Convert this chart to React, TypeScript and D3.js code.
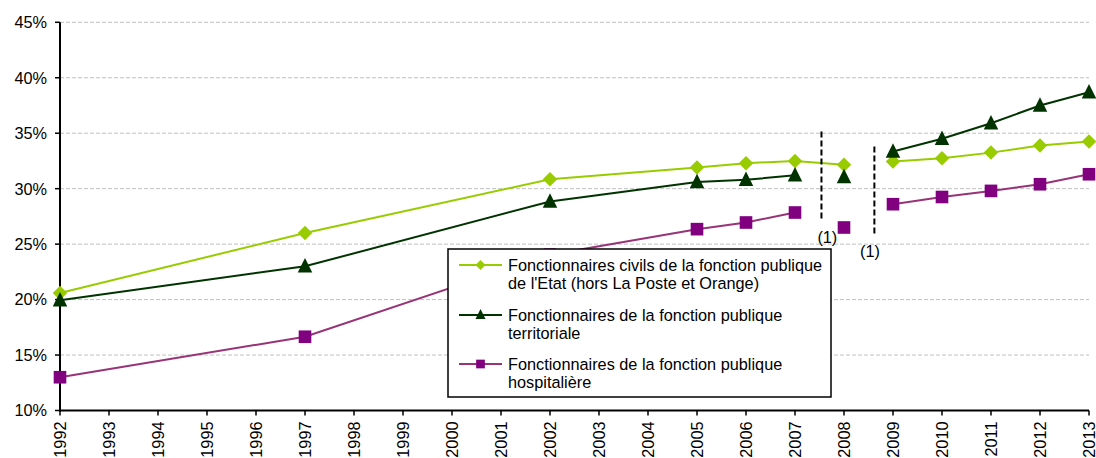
import React from "react";
import * as d3 from "d3";

const WIDTH = 1096;
const HEIGHT = 458;

const years = [1992, 1997, 2002, 2005, 2006, 2007, 2008, 2009, 2010, 2011, 2012, 2013];
const axisYears = d3.range(1992, 2014);
const yTicks = [10, 15, 20, 25, 30, 35, 40, 45];

const etat = [20.6, 26.0, 30.85, 31.9, 32.3, 32.5, 32.15, 32.45, 32.75, 33.25, 33.9, 34.25];
const etatSegments = [0, 0, 0, 0, 0, 0, 0, 1, 1, 1, 1, 1];
const territoriale = [19.95, 23.0, 28.85, 30.6, 30.8, 31.2, 31.05, 33.35, 34.5, 35.9, 37.5, 38.7];
const territorialeSegments = [0, 0, 0, 0, 0, 0, 1, 2, 2, 2, 2, 2];
const hospitaliere = [13.0, 16.65, 24.05, 26.35, 26.95, 27.85, 26.5, 28.6, 29.25, 29.8, 30.4, 31.3];
const hospitaliereSegments = [0, 0, 0, 0, 0, 0, 1, 2, 2, 2, 2, 2];

const legendLabels = [
  ["Fonctionnaires civils de la fonction publique", "de l'Etat (hors La Poste et Orange)"],
  ["Fonctionnaires de la fonction publique", "territoriale"],
  ["Fonctionnaires de la fonction publique", "hospitalière"],
];

// annotation "(1)": dashed line [year, from%, to%] and label [year, %]
const breakLines = [
  { year: 2007.54, from: 35.15, to: 27.2, labelYear: 2007.66, labelValue: 25.65 },
  { year: 2008.62, from: 33.8, to: 25.85, labelYear: 2008.53, labelValue: 24.4 },
];

const FONT = "'Liberation Sans', Arial, sans-serif";

type Shape = "diamond" | "triangle" | "square";

const series = [
  { values: etat, segments: etatSegments, line: "#99CC00", fill: "#99CC00", shape: "diamond" as Shape },
  { values: territoriale, segments: territorialeSegments, line: "#003300", fill: "#003300", shape: "triangle" as Shape },
  { values: hospitaliere, segments: hospitaliereSegments, line: "#993377", fill: "#800080", shape: "square" as Shape },
];

function Marker({ shape, x, y, size, fill }: { shape: Shape; x: number; y: number; size: number; fill: string }) {
  if (shape === "diamond") {
    const r = size / 2;
    return <path d={`M${x},${y - r}L${x + r},${y}L${x},${y + r}L${x - r},${y}Z`} fill={fill} />;
  }
  if (shape === "triangle") {
    const h = size;
    const w = size;
    return <path d={`M${x},${y - h / 2 - 1}L${x + w / 2},${y + h / 2 - 1}L${x - w / 2},${y + h / 2 - 1}Z`} fill={fill} />;
  }
  const s = size * 0.87;
  return <rect x={x - s / 2} y={y - s / 2} width={s} height={s} fill={fill} />;
}

export default function App() {
  const x = d3.scaleLinear().domain([1992, 2013]).range([60, 1089]);
  const y = d3.scaleLinear().domain([10, 45]).range([410.5, 22.3]);
  const line = d3
    .line<{ yr: number; v: number }>()
    .x((d) => x(d.yr))
    .y((d) => y(d.v));

  const legend = { x: 448, y: 249, w: 383, h: 148 };
  const legendRows = [265, 315, 364];

  return (
    <svg
      width={WIDTH}
      height={HEIGHT}
      style={{ position: "absolute", left: 0, top: 0, background: "#fff" }}
      fontFamily={FONT}
    >
      <rect width={WIDTH} height={HEIGHT} fill="#fff" />
      {/* gridlines */}
      {yTicks.slice(1).map((t) => (
        <line
          key={t}
          x1={x(1992)}
          x2={x(2013)}
          y1={y(t)}
          y2={y(t)}
          stroke="#c0c0c0"
          strokeWidth={1}
          strokeDasharray="4,2"
        />
      ))}
      {/* y axis */}
      <line x1={x(1992)} x2={x(1992)} y1={y(45)} y2={y(10) + 1} stroke="#000" strokeWidth={2} />
      {yTicks.map((t) => (
        <g key={t}>
          <line x1={x(1992) - 5} x2={x(1992)} y1={y(t)} y2={y(t)} stroke="#000" strokeWidth={1.5} />
          <text x={47} y={y(t)} dy="0.36em" textAnchor="end" fontSize={16.3} fill="#000">
            {d3.format(".0f")(t)}%
          </text>
        </g>
      ))}
      {/* x axis */}
      <line x1={x(1992) - 1} x2={x(2013)} y1={y(10)} y2={y(10)} stroke="#000" strokeWidth={2} />
      {axisYears.map((yr) => (
        <g key={yr}>
          <line x1={x(yr)} x2={x(yr)} y1={y(10)} y2={y(10) + 5} stroke="#000" strokeWidth={1.5} />
          <text
            transform={`translate(${x(yr)},${y(10) + 11}) rotate(-90)`}
            dy="0.36em"
            textAnchor="end"
            fontSize={16.3}
            fill="#000"
          >
            {yr}
          </text>
        </g>
      ))}
      {/* series lines */}
      {series.map((s, i) => {
        const pts = years.map((yr, j) => ({ yr, v: s.values[j], seg: s.segments[j] }));
        const groups = d3.groups(pts, (d) => d.seg);
        return (
          <g key={i}>
            {groups.map(([seg, g]) =>
              g.length > 1 ? (
                <path key={seg} d={line(g) || ""} fill="none" stroke={s.line} strokeWidth={2} />
              ) : null
            )}
          </g>
        );
      })}
      {/* markers */}
      {series.map((s, i) => (
        <g key={i}>
          {years.map((yr, j) => (
            <Marker key={yr} shape={s.shape} x={x(yr)} y={y(s.values[j])} size={14.5} fill={s.fill} />
          ))}
        </g>
      ))}
      {/* break annotations */}
      {breakLines.map((b, i) => (
        <g key={i}>
          <line
            x1={x(b.year)}
            x2={x(b.year)}
            y1={y(b.from)}
            y2={y(b.to)}
            stroke="#000"
            strokeWidth={2}
            strokeDasharray="6,3"
          />
          <text x={x(b.labelYear)} y={y(b.labelValue)} dy="0.36em" textAnchor="middle" fontSize={16.3} fill="#000">
            (1)
          </text>
        </g>
      ))}
      {/* legend */}
      <rect
        x={legend.x}
        y={legend.y}
        width={legend.w}
        height={legend.h}
        fill="#fff"
        stroke="#000"
        strokeWidth={1.5}
      />
      {series.map((s, i) => (
        <g key={i}>
          <line x1={459} x2={502} y1={legendRows[i]} y2={legendRows[i]} stroke={s.line} strokeWidth={2} />
          <Marker shape={s.shape} x={480.5} y={legendRows[i]} size={10} fill={s.fill} />
          {legendLabels[i].map((t, k) => (
            <text key={k} x={508} y={legendRows[i] + 6 + k * 18} fontSize={16.3} fill="#000">
              {t}
            </text>
          ))}
        </g>
      ))}
    </svg>
  );
}
